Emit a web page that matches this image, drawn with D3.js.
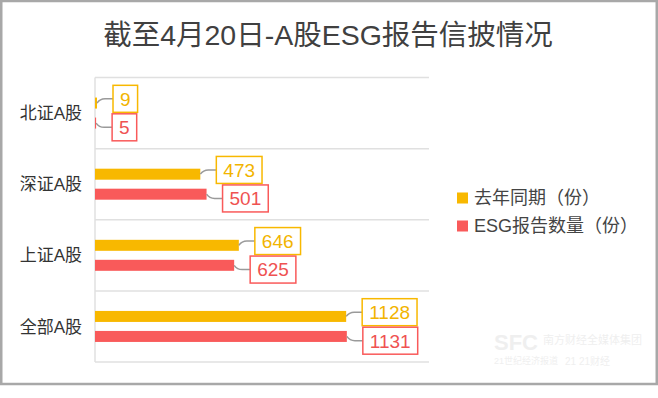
<!DOCTYPE html>
<html>
<head>
<meta charset="utf-8">
<script src="https://cdn.jsdelivr.net/npm/d3@7"></script>
<style>
  html, body { margin: 0; padding: 0; background: #fff; }
  svg { display: block; }
  text { font-family: "Liberation Sans", "Noto Sans CJK SC", sans-serif; }
</style>
</head>
<body>
<div id="chart"></div>
<script>
// data
const categories = ['北证A股', '深证A股', '上证A股', '全部A股'];
const lastYear = [9, 473, 646, 1128];
const esgReports = [5, 501, 625, 1131];
const seriesNames = ['去年同期（份）', 'ESG报告数量（份）'];
const chartTitle = '截至4月20日-A股ESG报告信披情况';

const W = 658, H = 398;
const colors = ['#f8b800', '#f95a5a'];
const textColors = ['#f2b400', '#ef5252'];

const svg = d3.select('#chart').append('svg')
  .attr('width', W)
  .attr('height', H);

// outer frame
svg.append('rect')
  .attr('x', 1.25).attr('y', 1)
  .attr('width', 655.5).attr('height', 383)
  .attr('fill', '#fff')
  .attr('stroke', '#a8a8a8')
  .attr('stroke-width', 2.5);

svg.append('text')
  .attr('x', 328).attr('y', 45)
  .attr('text-anchor', 'middle')
  .attr('font-size', 28.5)
  .attr('fill', '#404040')
  .text(chartTitle);

// Scales
const x = d3.scaleLinear().domain([0, 1500]).range([95, 429]);
const y = d3.scaleBand().domain(categories).range([77.5, 362]);

const g = svg.append('g');

// band separators
const edges = categories.map(c => y(c)).concat([y.range()[1]]);
g.selectAll('.grid')
  .data(edges)
  .enter().append('line')
  .attr('class', 'grid')
  .attr('x1', 95).attr('x2', 429)
  .attr('y1', d => d).attr('y2', d => d)
  .attr('stroke', '#e0e0e0')
  .attr('stroke-width', 1.5);

g.append('line')
  .attr('x1', 95).attr('x2', 95)
  .attr('y1', y.range()[0]).attr('y2', y.range()[1])
  .attr('stroke', '#e0e0e0')
  .attr('stroke-width', 1.5);

// category labels
g.selectAll('.cat')
  .data(categories)
  .enter().append('text')
  .attr('class', 'cat')
  .attr('x', 82)
  .attr('y', d => y(d) + y.bandwidth() / 2)
  .attr('dy', '0.36em')
  .attr('text-anchor', 'end')
  .attr('font-size', 17)
  .attr('fill', '#333')
  .text(d => d);

const barH = 11;
const series = [lastYear, esgReports];
const boxH = 28.5;

series.forEach((values, si) => {
  const rows = categories.map((c, i) => ({ cat: c, value: values[i] }));
  const cy = d => y(d.cat) + y.bandwidth() / 2 + (si === 0 ? -10 : 10);

  g.selectAll('.bar-' + si)
    .data(rows)
    .enter().append('rect')
    .attr('class', 'bar-' + si)
    .attr('x', x(0))
    .attr('y', d => cy(d) - barH / 2)
    .attr('width', d => x(d.value) - x(0))
    .attr('height', barH)
    .attr('fill', colors[si]);

  // labels stacked around the band centre so they don't overlap
  const labels = g.selectAll('.lab-' + si)
    .data(rows)
    .enter().append('g')
    .attr('class', 'lab-' + si);

  labels.each(function(d) {
    const el = d3.select(this);
    const bandMid = y(d.cat) + y.bandwidth() / 2;
    const boxTop = si === 0 ? bandMid - boxH : bandMid;
    const boxMid = boxTop + boxH / 2;
    const x0 = x(d.value);
    const left = x0 + 16;

    el.append('path')
      .attr('d', `M${x0},${cy(d)}Q${x0 + 3},${boxMid} ${x0 + 8},${boxMid}L${left},${boxMid}`)
      .attr('fill', 'none')
      .attr('stroke', '#9a9a9a')
      .attr('stroke-width', 1.5);

    const txt = el.append('text')
      .attr('x', left + 7)
      .attr('y', boxMid)
      .attr('dy', '0.36em')
      .attr('font-size', 19)
      .attr('fill', textColors[si])
      .text(d.value);
    const tw = txt.node().getComputedTextLength();

    el.insert('rect', 'text')
      .attr('x', left)
      .attr('y', boxTop + 0.75)
      .attr('width', tw + 14)
      .attr('height', boxH - 1.5)
      .attr('fill', '#fff')
      .attr('stroke', colors[si])
      .attr('stroke-width', 1.5);
  });
});

// legend
const legend = svg.selectAll('.legend')
  .data(seriesNames)
  .enter().append('g')
  .attr('class', 'legend')
  .attr('transform', (d, i) => `translate(457,${198 + i * 28})`);

legend.append('rect')
  .attr('x', 0).attr('y', -5.5)
  .attr('width', 11).attr('height', 11)
  .attr('fill', (d, i) => colors[i]);

legend.append('text')
  .attr('x', 17).attr('y', 0)
  .attr('dy', '0.36em')
  .attr('font-size', 18)
  .attr('fill', '#444')
  .text(d => d);

// faint watermark
const wm = svg.append('g').attr('fill', '#efefef');
wm.append('text').attr('x', 494).attr('y', 350)
  .attr('font-size', 22).attr('font-weight', 'bold').text('SFC');
wm.append('text').attr('x', 543).attr('y', 344)
  .attr('font-size', 11).text('南方财经全媒体集团');
wm.append('text').attr('x', 494).attr('y', 364)
  .attr('font-size', 9).text('21世纪经济报道');
wm.append('text').attr('x', 565).attr('y', 365)
  .attr('font-size', 10).text('21 21财经');
</script>
</body>
</html>
